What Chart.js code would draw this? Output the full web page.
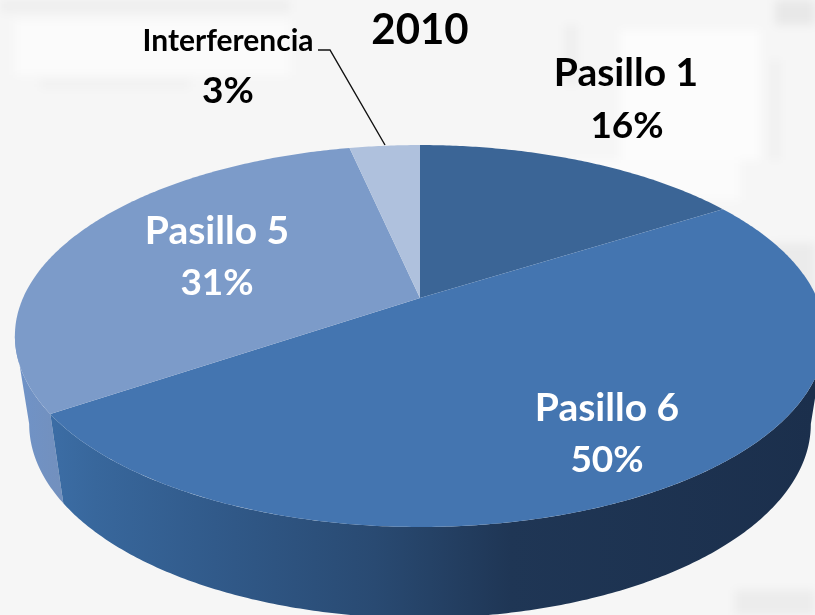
<!DOCTYPE html>
<html lang="es">
<head>
<meta charset="utf-8">
<title>2010</title>
<script src="https://cdn.jsdelivr.net/npm/chart.js@4"></script>
<style>
html,body{margin:0;padding:0;width:815px;height:615px;overflow:hidden;background:#f6f6f6;}
#bg{
  position:absolute;left:-20px;top:-20px;width:855px;height:655px;filter:blur(5px);
  background-color:#f6f6f6;
  background-repeat:no-repeat;
  background-image:
    linear-gradient(#e8e8e8,#e8e8e8),linear-gradient(#ebebeb,#ebebeb),linear-gradient(#ececec,#ececec),
    linear-gradient(#f0f0f0,#f0f0f0),linear-gradient(#eeeeee,#eeeeee),linear-gradient(#f0f0f0,#f0f0f0),
    linear-gradient(#fbfbfb,#fbfbfb),linear-gradient(#fbfbfb,#fbfbfb),linear-gradient(#fcfcfc,#fcfcfc),linear-gradient(#eeeeee,#eeeeee);
  background-position:795px 20px,790px 263px,755px 610px,60px 100px,585px 45px,790px 80px,35px 40px,590px 180px,640px 50px,20px 20px;
  background-size:40px 25px,45px 60px,80px 25px,150px 8px,12px 60px,10px 100px,275px 55px,170px 40px,140px 130px,290px 12px;
}
#wrap{position:absolute;left:0;top:0;width:815px;height:615px;}
</style>
</head>
<body>
<div id="bg"></div>
<div id="wrap"><canvas id="chart" width="815" height="615"></canvas></div>
<script>
const titleText = '2010';
const categories = ['Pasillo 1', 'Pasillo 6', 'Pasillo 5', 'Interferencia'];
const shares = [16, 49.5, 31.1, 3.4];
const faceColors = ['#3b6596', '#4475b0', '#7c9bc9', '#afc1dd'];

const top3d = { x0: 420, y0: 298, a: 397, b: 183.4, k: 0.199 };
const bottom3d = { x0: 420, y0: 385.4, a: 383, b: 186.3, k: 0.199 };

function project(p, t) {
  const u = Math.cos(t), v = Math.sin(t), d = 1 - p.k * v;
  return [p.x0 + p.a * u / d, p.y0 + p.b * v / d];
}
function tracePts(ctx, p, from, to, first) {
  const n = Math.max(2, Math.ceil(Math.abs(to - from) / 0.01));
  for (let i = 0; i <= n; i++) {
    const q = project(p, from + (to - from) * i / n);
    if (i === 0 && first) ctx.moveTo(q[0], q[1]); else ctx.lineTo(q[0], q[1]);
  }
}
function drawFace(ctx) {
  ctx.save();
  ctx.beginPath();
  ctx.moveTo(top3d.x0, top3d.y0);
  tracePts(ctx, top3d, this.startAngle, this.endAngle, false);
  ctx.closePath();
  ctx.fillStyle = this.options.backgroundColor;
  ctx.fill();
  ctx.restore();
}
function wallGradient(ctx, stops) {
  const g = ctx.createLinearGradient(15, 0, 815, 0);
  stops.forEach(s => g.addColorStop(s[0], s[1]));
  return g;
}
function drawWall(ctx, from, to, fill) {
  ctx.beginPath();
  tracePts(ctx, top3d, from, to, true);
  tracePts(ctx, bottom3d, to, from, false);
  ctx.closePath();
  ctx.fillStyle = fill;
  ctx.fill();
}

const perspectivePie = {
  id: 'perspectivePie',
  beforeDatasetDraw(chart) {
    const ctx = chart.ctx, arcs = chart.getDatasetMeta(0).data;
    const wall6 = wallGradient(ctx, [[0, '#3f72ac'], [0.1, '#38679c'], [0.25, '#315a8a'], [0.45, '#294a72'], [0.62, '#1f3655'], [1, '#1b2f4c']]);
    const wall5 = wallGradient(ctx, [[0, '#6f93c8'], [0.06, '#7390bd']]);
    // the visible wall runs between the two widest points of the rim
    const side = Math.asin(top3d.k);
    const a6 = arcs[1], a5 = arcs[2];
    drawWall(ctx, a5.startAngle, Math.PI - side, wall5);
    drawWall(ctx, side, a6.endAngle, wall6);
    arcs.forEach(a => { a.draw = drawFace; });
  },
  afterDatasetDraw(chart) {
    const ctx = chart.ctx;
    const val = categories.map((c, i) => c + '|' + Math.round(shares[i]) + '%');
    const put = (t, x, y, size, col) => {
      ctx.font = 'bold ' + size + 'px Lato';
      ctx.fillStyle = col;
      ctx.textAlign = 'center';
      ctx.textBaseline = 'middle';
      ctx.fillText(t, x, y);
    };
    put(titleText, 420, 30, 42, '#000');
    const l = val.map(s => s.split('|'));
    put(l[0][0], 626, 73, 39, '#000'); put(l[0][1], 627, 126, 37, '#000');
    put(l[1][0], 607, 408, 39, '#fff'); put(l[1][1], 607, 460, 37, '#fff');
    put(l[2][0], 217, 231, 39, '#fff'); put(l[2][1], 217, 283, 37, '#fff');
    put(l[3][0], 228, 41, 30, '#000'); put(l[3][1], 228, 91, 37, '#000');
    ctx.beginPath();
    ctx.moveTo(318, 50); ctx.lineTo(330, 50); ctx.lineTo(385, 145);
    ctx.strokeStyle = '#111'; ctx.lineWidth = 1.4; ctx.stroke();
  }
};

new Chart(document.getElementById('chart'), {
  type: 'pie',
  data: {
    labels: categories,
    datasets: [{ data: shares, backgroundColor: faceColors, borderWidth: 0 }]
  },
  options: {
    responsive: false,
    animation: false,
    events: [],
    plugins: { legend: { display: false }, tooltip: { enabled: false } }
  },
  plugins: [perspectivePie]
});
</script>
</body>
</html>
